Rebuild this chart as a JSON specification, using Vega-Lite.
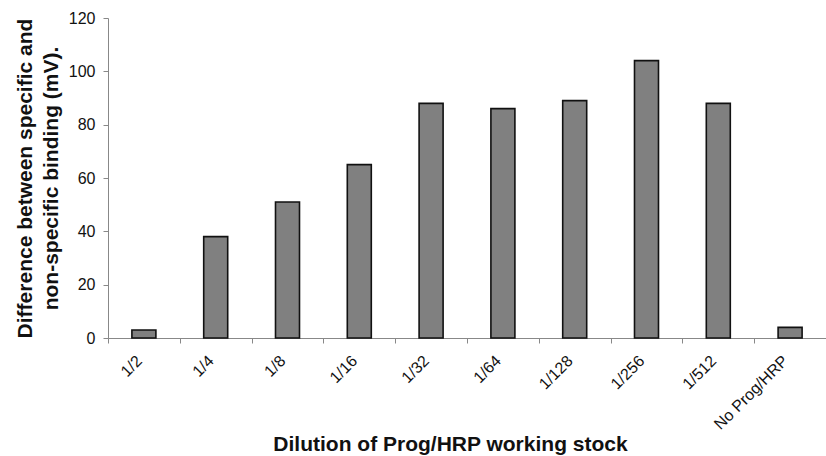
{
  "$schema": "https://vega.github.io/schema/vega-lite/v6.json",
  "autosize": {"type": "none"},
  "padding": {"left": 108, "top": 18, "right": 0, "bottom": 118},
  "width": 718,
  "height": 320,
  "background": "white",
  "config": {
    "view": {"stroke": null},
    "font": "Liberation Sans"
  },
  "data": {
    "values": [
      {"dilution": "1/2", "value": 3},
      {"dilution": "1/4", "value": 38},
      {"dilution": "1/8", "value": 51},
      {"dilution": "1/16", "value": 65},
      {"dilution": "1/32", "value": 88},
      {"dilution": "1/64", "value": 86},
      {"dilution": "1/128", "value": 89},
      {"dilution": "1/256", "value": 104},
      {"dilution": "1/512", "value": 88},
      {"dilution": "No Prog/HRP", "value": 4}
    ]
  },
  "mark": {"type": "bar", "fill": "#808080", "stroke": "#111111", "strokeWidth": 1.6, "size": 24},
  "encoding": {
    "x": {
      "field": "dilution",
      "type": "nominal",
      "sort": null,
      "scale": {"paddingInner": 0, "paddingOuter": 0},
      "axis": {
        "title": "Dilution of Prog/HRP working stock",
        "titleFont": "Liberation Sans",
        "titleFontSize": 21,
        "titleFontWeight": "bold",
        "titleColor": "#111111",
        "titleX": 342,
        "titleY": 112,
        "titleAlign": "center",
        "titleBaseline": "alphabetic",
        "labelAngle": -45,
        "labelAlign": "right",
        "labelBaseline": "middle",
        "labelFontSize": 16,
        "labelColor": "#111111",
        "labelPadding": 15,
        "labelOffset": -5,
        "tickBand": "extent",
        "tickSize": 5,
        "tickColor": "#888888",
        "domainColor": "#888888",
        "grid": false
      }
    },
    "y": {
      "field": "value",
      "type": "quantitative",
      "scale": {"domain": [0, 120]},
      "axis": {
        "title": ["Difference between specific and", "non-specific binding (mV)."],
        "titleFont": "Liberation Sans",
        "titleFontSize": 21,
        "titleFontWeight": "bold",
        "titleColor": "#111111",
        "titleLineHeight": 26,
        "titleAngle": -90,
        "titleAlign": "center",
        "titleBaseline": "alphabetic",
        "titleX": -77,
        "titleY": 160,
        "values": [0, 20, 40, 60, 80, 100, 120],
        "labelFontSize": 16,
        "labelColor": "#111111",
        "labelPadding": 8,
        "tickSize": 5,
        "tickColor": "#888888",
        "domainColor": "#888888",
        "grid": false
      }
    }
  }
}
